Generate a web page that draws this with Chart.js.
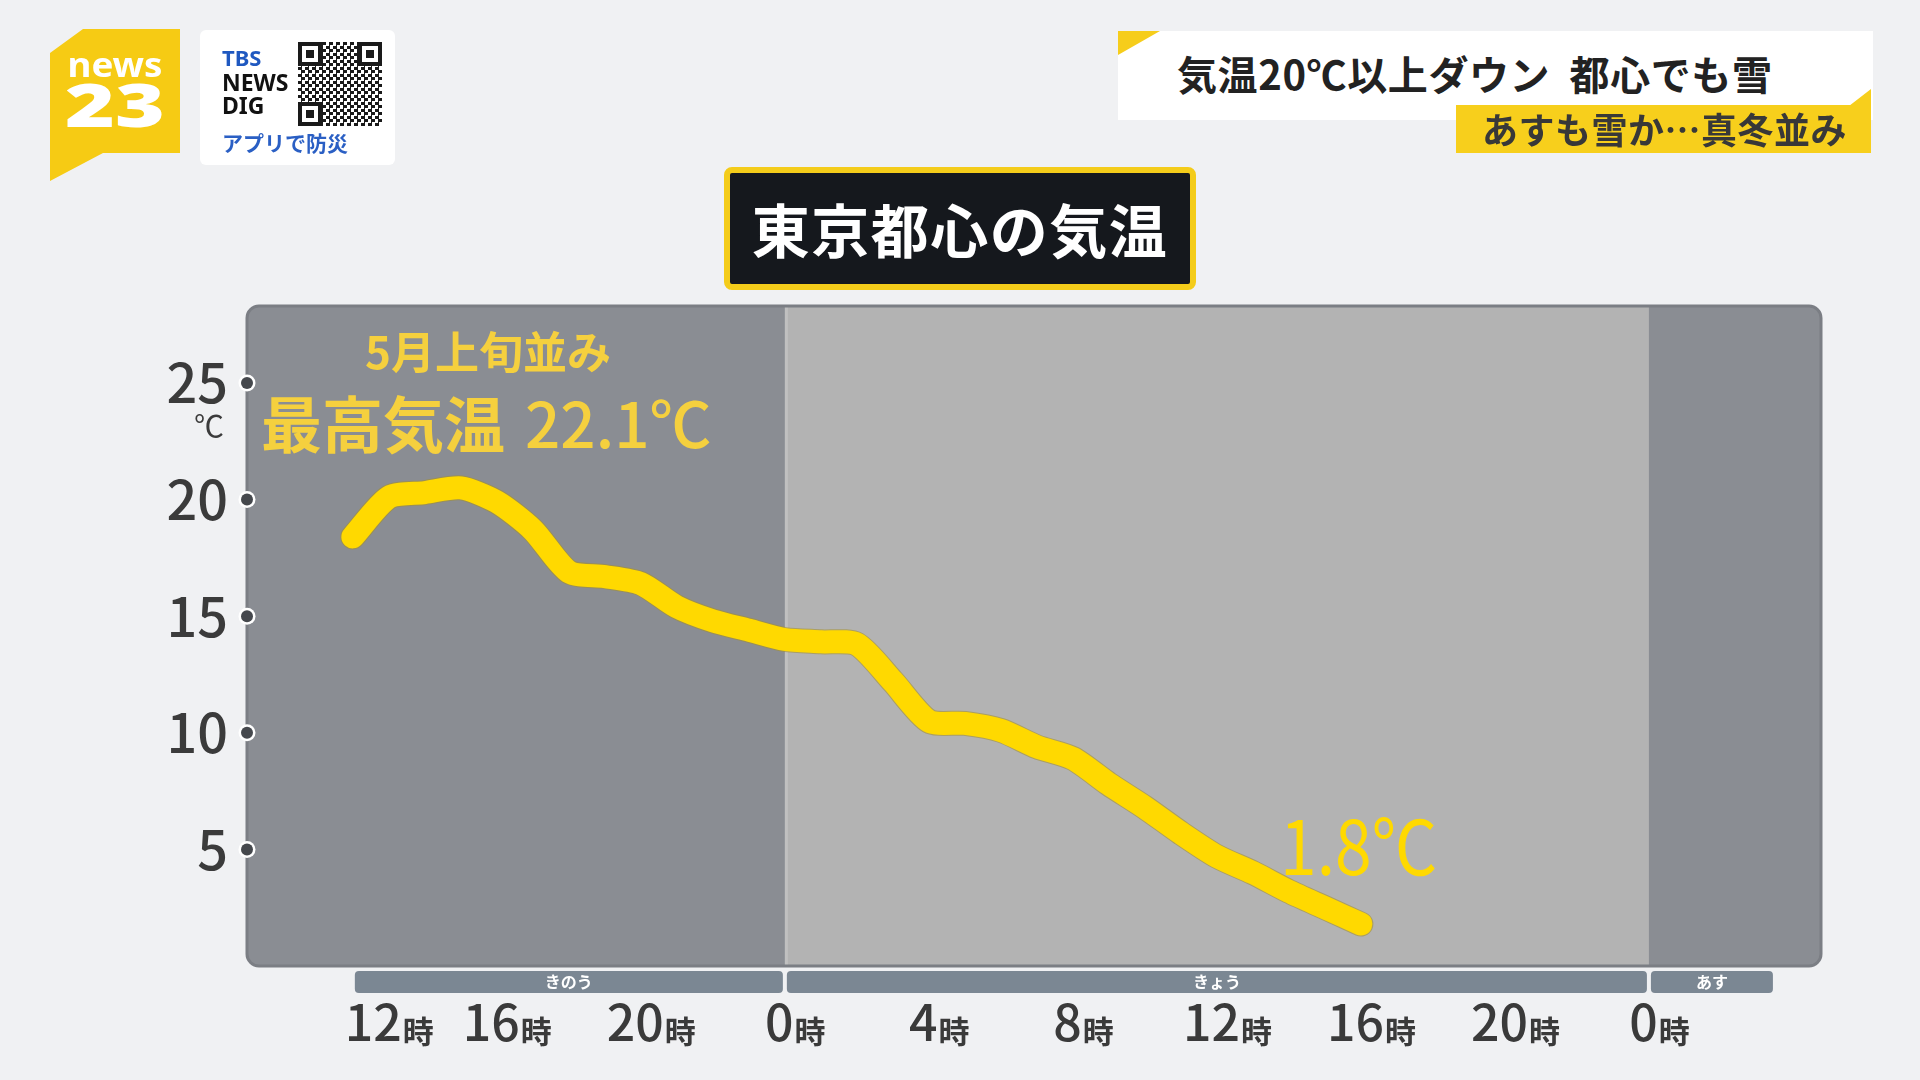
<!DOCTYPE html>
<html lang="ja">
<head>
<meta charset="utf-8">
<title>東京都心の気温</title>
<script src="https://cdn.jsdelivr.net/npm/chart.js@4.4.1/dist/chart.umd.min.js"></script>
<style>
  html, body { margin: 0; padding: 0; }
  body {
    width: 1920px; height: 1080px; overflow: hidden; position: relative;
    background: #f0f1f3;
    font-family: "Noto Sans CJK JP", "Noto Sans", sans-serif;
  }
  #chart { position: absolute; left: 0; top: 0; }
  .abs { position: absolute; }
  /* logo + app box */
  #logo { left: 50px; top: 29px; }
  #app { left: 200px; top: 30px; width: 195px; height: 135px; background: #fff; border-radius: 6px; }
  #app .t { position: absolute; left: 22px; font-weight: 700; line-height: 1; font-family: "Noto Sans", sans-serif; }
  #qr { left: 98px; top: 12px; width: 84px; height: 84px;
        background: repeating-conic-gradient(#1a1a1a 0 25%, #fff 0 50%) 0 0 / 7px 7px; }
  .finder { position: absolute; width: 16px; height: 16px; border: 4px solid #1a1a1a; background: #fff; }
  .finder::after { content: ""; position: absolute; left: 4px; top: 4px; width: 8px; height: 8px; background: #1a1a1a; }
  /* headline */
  #head { left: 1118px; top: 31px; width: 755px; height: 89px; background: #fff; }
  #headTri { left: 1118px; top: 31px; width: 42px; height: 24px; background: #f6cd1b;
             clip-path: polygon(0 0, 100% 0, 0 100%); }
  #headText { left: 1177px; top: 45px; font-size: 40px; font-weight: 700; color: #222; line-height: 56px; white-space: pre; letter-spacing: 0.6px; }
  #sub { left: 1456px; top: 105px; width: 415px; height: 48px; background: #f7cf1c; }
  #subTri { left: 1849px; top: 89px; width: 22px; height: 17px; background: #f7cf1c;
            clip-path: polygon(100% 0, 100% 100%, 0 100%); }
  #subText { left: 1482px; top: 105px; font-size: 36px; font-weight: 700; color: #383838; line-height: 46px; white-space: pre; letter-spacing: 0.5px; }
  /* chart title */
  #title { left: 724px; top: 167px; width: 460px; height: 111px; background: #15181d;
           border: 6px solid #f4cc1a; border-radius: 8px; letter-spacing: 1.5px;
           color: #fff; font-size: 58px; font-weight: 700; text-align: center; line-height: 111px; }
</style>
</head>
<body>
<canvas id="chart" width="1920" height="1080"></canvas>

<svg id="logo" class="abs" width="130" height="152" viewBox="0 0 130 152">
  <polygon points="33,0 130,0 130,124 53,124 0,152 0,24" fill="#f6cb14"/>
  <text x="65" y="48" text-anchor="middle" fill="#fff" font-family="Noto Sans, sans-serif"
        font-weight="700" font-size="34" textLength="95" lengthAdjust="spacingAndGlyphs">news</text>
  <text x="65" y="98" text-anchor="middle" fill="#fff" font-family="Noto Sans, sans-serif"
        font-weight="900" font-size="60" textLength="100" lengthAdjust="spacingAndGlyphs">23</text>
</svg>

<div id="app" class="abs">
  <div class="t" style="top:16px;font-size:22px;color:#1f58c0;">TBS</div>
  <div class="t" style="top:41px;font-size:23px;color:#111;">NEWS</div>
  <div class="t" style="top:64px;font-size:23px;color:#111;">DIG</div>
  <div id="qr" class="abs">
    <div class="finder" style="left:0;top:0"></div>
    <div class="finder" style="right:0;top:0"></div>
    <div class="finder" style="left:0;bottom:0"></div>
  </div>
  <div class="t" style="top:102px;font-size:21px;color:#2a5fc4;font-family:'Noto Sans CJK JP',sans-serif;">アプリで防災</div>
</div>

<div id="head" class="abs"></div>
<div id="headTri" class="abs"></div>
<div id="headText" class="abs">気温20℃以上ダウン  都心でも雪</div>
<div id="sub" class="abs"></div>
<div id="subTri" class="abs"></div>
<div id="subText" class="abs">あすも雪か…真冬並み</div>

<div id="title" class="abs">東京都心の気温</div>

<script>
// hours counted from yesterday 0時 (24 = today 0時)
const hours = [12, 13, 14, 15, 16, 17, 18, 19, 20, 21, 22, 23, 24, 25, 26, 27, 28, 29, 30, 31, 32, 33, 34, 35, 36, 37, 38, 39, 40];
const temps = [18.4, 20.1, 20.3, 20.5, 19.9, 18.7, 16.9, 16.7, 16.4, 15.4, 14.8, 14.4, 14.0, 13.9, 13.8, 12.2, 10.5, 10.4, 10.1, 9.4, 8.9, 7.8, 6.8, 5.7, 4.7, 4.0, 3.2, 2.5, 1.8];

const yTicks = [5, 10, 15, 20, 25];
const xTicks = [12, 16, 20, 24, 28, 32, 36, 40, 44, 48];
const xTickLabels = ['12', '16', '20', '0', '4', '8', '12', '16', '20', '0'];

const dayNames = ['きのう', 'きょう', 'あす'];
const dayStart = [12, 24, 48];
const dayEnd = [24, 48, 51.5];

const FONT = '"Noto Sans CJK JP", "Noto Sans", sans-serif';
const LINE_YELLOW = '#ffd900';
const TEXT_YELLOW = '#f5d03e';

/* panel behind the line: dark for yesterday / tomorrow, light for today */
const panelPlugin = {
  id: 'panel',
  beforeDatasetsDraw(chart) {
    const { ctx, chartArea: a, scales: { x } } = chart;
    const x0 = x.getPixelForValue(dayStart[1]);
    const x1 = x.getPixelForValue(dayEnd[1]);
    ctx.save();
    ctx.beginPath();
    ctx.roundRect(a.left, a.top, a.right - a.left, a.bottom - a.top, 12);
    ctx.clip();
    ctx.fillStyle = '#8a8d93';
    ctx.fillRect(a.left, a.top, a.right - a.left, a.bottom - a.top);
    ctx.fillStyle = '#b3b3b3';
    ctx.fillRect(x0, a.top, x1 - x0, a.bottom - a.top);
    ctx.fillStyle = 'rgba(200,200,200,0.6)';
    ctx.fillRect(x0, a.top, 3, a.bottom - a.top);
    ctx.restore();
    ctx.save();
    ctx.strokeStyle = '#7b7e84';
    ctx.lineWidth = 3;
    ctx.beginPath();
    ctx.roundRect(a.left, a.top, a.right - a.left, a.bottom - a.top, 12);
    ctx.stroke();
    ctx.restore();
  },
  afterDraw(chart) {
    const { ctx, chartArea: a, scales: { x, y } } = chart;
    ctx.save();

    // dots on the y axis
    yTicks.forEach(v => {
      const py = y.getPixelForValue(v);
      ctx.beginPath();
      ctx.arc(a.left, py, 8.5, 0, Math.PI * 2);
      ctx.fillStyle = '#ffffff';
      ctx.fill();
      ctx.beginPath();
      ctx.arc(a.left, py, 6, 0, Math.PI * 2);
      ctx.fillStyle = '#45484d';
      ctx.fill();
    });

    // unit under 25
    ctx.fillStyle = '#3b3b3b';
    ctx.font = '400 30px ' + FONT;
    ctx.textAlign = 'center';
    ctx.textBaseline = 'middle';
    ctx.fillText('℃', 209, 426);

    // day bars
    const barTop = a.bottom + 5, barH = 22;
    dayNames.forEach((name, i) => {
      const l = x.getPixelForValue(dayStart[i]) + 2;
      const r = x.getPixelForValue(dayEnd[i]) - 2;
      ctx.fillStyle = '#7b8793';
      ctx.beginPath();
      ctx.roundRect(l, barTop, r - l, barH, 4);
      ctx.fill();
      ctx.fillStyle = '#ffffff';
      ctx.font = '700 16px ' + FONT;
      ctx.textAlign = 'center';
      ctx.textBaseline = 'middle';
      ctx.fillText(name, (l + r) / 2, barTop + barH / 2);
    });

    // x tick labels: big number + small 時
    const minLeft = x.getPixelForValue(dayStart[0]) - 8;
    xTicks.forEach((v, i) => {
      const num = xTickLabels[i];
      ctx.font = '500 50px ' + FONT;
      const wn = ctx.measureText(num).width;
      ctx.font = '700 31px ' + FONT;
      const wj = ctx.measureText('時').width;
      let left = x.getPixelForValue(v) - (wn + wj) / 2 + 10;
      left = Math.max(left, minLeft);
      const base = 1041;
      ctx.textAlign = 'left';
      ctx.textBaseline = 'alphabetic';
      ctx.fillStyle = '#3a3a3a';
      ctx.font = '500 50px ' + FONT;
      ctx.fillText(num, left, base);
      ctx.font = '700 31px ' + FONT;
      ctx.fillText('時', left + wn + 1, base + 2);
    });

    // annotations
    ctx.fillStyle = TEXT_YELLOW;
    ctx.textAlign = 'center';
    ctx.textBaseline = 'middle';
    ctx.font = '700 44px ' + FONT;
    ctx.fillText('5月上旬並み', 488, 352);

    ctx.textAlign = 'left';
    ctx.textBaseline = 'alphabetic';
    ctx.font = '700 61px ' + FONT;
    ctx.fillText('最高気温', 261, 448);
    const wk = ctx.measureText('最高気温').width;
    ctx.font = '500 62px ' + FONT;
    ctx.fillText('22.1℃', 261 + wk + 20, 448);

    // last value
    ctx.fillStyle = LINE_YELLOW;
    ctx.translate(1280, 875);
    ctx.scale(0.88, 1);
    ctx.font = '400 75px ' + FONT;
    ctx.fillText('1.8℃', 0, 0);
    ctx.restore();
  }
};

const points = hours.map((h, i) => ({ x: h, y: temps[i] }));

new Chart(document.getElementById('chart').getContext('2d'), {
  type: 'line',
  data: {
    datasets: [{
      label: '気温',
      data: points,
      borderColor: LINE_YELLOW,
      borderWidth: 23,
      borderCapStyle: 'round',
      borderJoinStyle: 'round',
      pointRadius: 0,
      tension: 0.25,
      fill: false
    }, {
      label: 'outline',
      data: points,
      borderColor: 'rgba(165,145,45,0.6)',
      borderWidth: 25,
      borderCapStyle: 'round',
      borderJoinStyle: 'round',
      pointRadius: 0,
      tension: 0.25,
      fill: false
    }]
  },
  options: {
    responsive: false,
    devicePixelRatio: 1,
    animation: false,
    layout: { padding: { top: 306, right: 99, left: 0, bottom: 0 } },
    plugins: { legend: { display: false }, tooltip: { enabled: false } },
    scales: {
      x: {
        type: 'linear',
        min: 9.06,
        max: 52.78,
        afterBuildTicks: s => { s.ticks = xTicks.map(v => ({ value: v })); },
        ticks: { display: false },
        grid: { display: false, drawTicks: false },
        border: { display: false },
        afterFit: s => { s.height = 114; }
      },
      y: {
        min: 0,
        max: 28.3,
        afterBuildTicks: s => { s.ticks = yTicks.map(v => ({ value: v })); },
        ticks: { padding: 19, color: '#3b3b3b', font: { family: FONT, size: 54, weight: '500' } },
        grid: { display: false, drawTicks: false },
        border: { display: false },
        afterFit: s => { s.width = 247; }
      }
    }
  },
  plugins: [panelPlugin]
});
</script>
</body>
</html>
